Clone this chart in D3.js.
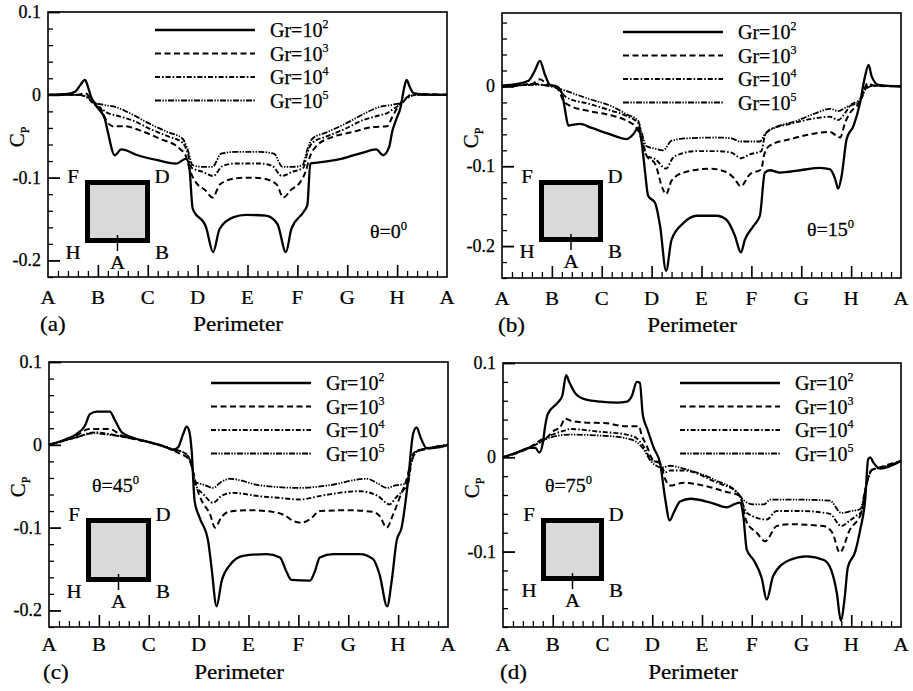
<!DOCTYPE html>
<html><head><meta charset="utf-8">
<script src="https://cdn.jsdelivr.net/npm/d3@7"></script>
<style>body{margin:0;background:#fff} svg{display:block}</style>
</head><body>
<svg id="c" width="913" height="691"></svg>
<script>
// ---------- DATA ----------
const xTickLabels = ["A","B","C","D","E","F","G","H","A"];
const grExponents = ["2","3","4","5"];
const thetaLabels = ["0","15","45","75"];
const panelTags = ["(a)","(b)","(c)","(d)"];
const yTicksA = [0.1,0,-0.1,-0.2];
const yTicksB = [0,-0.1,-0.2];
const yTicksC = [0.1,0,-0.1,-0.2];
const yTicksD = [0.1,0,-0.1];

// panel (a) theta = 0
const a_gr2 = [[0,0],[0.4,0.001],[0.55,0.004],[0.65,0.012],[0.74,0.018],[0.8,0.01],[0.86,-0.002],[0.93,-0.01],[1.0,-0.016],[1.14,-0.029],[1.2,-0.045],[1.34,-0.073],[1.47,-0.066],[1.8,-0.073],[2.2,-0.079],[2.57,-0.083],[2.77,-0.077],[2.83,-0.085],[2.9,-0.137],[3.17,-0.16],[3.31,-0.19],[3.44,-0.162],[3.71,-0.148],[3.97,-0.145],[4.37,-0.146],[4.6,-0.156],[4.77,-0.19],[4.88,-0.162],[5.14,-0.14],[5.2,-0.133],[5.26,-0.083],[5.4,-0.082],[5.9,-0.077],[6.3,-0.07],[6.58,-0.066],[6.72,-0.073],[6.84,-0.063],[6.9,-0.045],[6.98,-0.03],[7.07,-0.015],[7.14,0.008],[7.19,0.018],[7.25,0.01],[7.33,0.002],[7.5,0.0005],[8,0]];
const a_gr3 = [[0,0],[0.6,0.0],[0.75,0.002],[0.85,-0.004],[0.95,-0.01],[1.05,-0.016],[1.17,-0.031],[1.3,-0.038],[1.55,-0.038],[1.84,-0.043],[2.24,-0.053],[2.64,-0.065],[2.77,-0.075],[2.85,-0.092],[2.97,-0.106],[3.15,-0.115],[3.3,-0.124],[3.45,-0.108],[3.75,-0.101],[4.0,-0.1],[4.3,-0.101],[4.58,-0.108],[4.72,-0.124],[4.87,-0.115],[5.05,-0.106],[5.17,-0.092],[5.25,-0.075],[5.38,-0.062],[5.7,-0.051],[6.1,-0.045],[6.5,-0.039],[6.8,-0.038],[6.9,-0.027],[7.03,-0.013],[7.2,-0.003],[7.3,0.001],[8,0]];
const a_gr4 = [[0,0],[0.6,0.0],[0.8,-0.004],[0.9,-0.01],[1.05,-0.016],[1.2,-0.022],[1.37,-0.025],[1.7,-0.031],[2.04,-0.041],[2.4,-0.05],[2.7,-0.058],[2.8,-0.07],[2.88,-0.088],[3.1,-0.093],[3.31,-0.098],[3.5,-0.086],[3.75,-0.083],[4.25,-0.083],[4.5,-0.086],[4.69,-0.098],[4.9,-0.093],[5.12,-0.088],[5.2,-0.07],[5.3,-0.058],[5.6,-0.05],[5.96,-0.041],[6.3,-0.031],[6.63,-0.025],[6.8,-0.022],[6.95,-0.016],[7.1,-0.01],[7.2,-0.004],[7.4,0],[8,0]];
const a_gr5 = [[0,0],[0.6,0],[0.8,-0.003],[0.9,-0.009],[1.1,-0.012],[1.37,-0.015],[1.7,-0.024],[2.04,-0.035],[2.4,-0.045],[2.7,-0.053],[2.8,-0.066],[2.9,-0.085],[3.1,-0.087],[3.3,-0.087],[3.47,-0.071],[3.75,-0.069],[4.25,-0.069],[4.53,-0.071],[4.7,-0.087],[4.9,-0.087],[5.1,-0.085],[5.2,-0.066],[5.3,-0.053],[5.6,-0.045],[5.96,-0.035],[6.3,-0.024],[6.63,-0.015],[6.9,-0.012],[7.1,-0.009],[7.2,-0.003],[7.4,0],[8,0]];

// panel (b) theta = 15
const b_gr2 = [[0,0.001],[0.29,0.003],[0.53,0.007],[0.66,0.02],[0.76,0.032],[0.86,0.015],[0.96,0.002],[1.1,0],[1.2,-0.008],[1.26,-0.028],[1.33,-0.049],[1.56,-0.047],[1.8,-0.052],[2.17,-0.06],[2.5,-0.066],[2.63,-0.06],[2.73,-0.052],[2.8,-0.07],[2.87,-0.108],[2.93,-0.137],[3.07,-0.146],[3.17,-0.175],[3.29,-0.231],[3.4,-0.192],[3.64,-0.171],[3.9,-0.162],[4.3,-0.162],[4.5,-0.167],[4.67,-0.187],[4.79,-0.208],[4.87,-0.192],[5.04,-0.175],[5.17,-0.162],[5.27,-0.108],[5.37,-0.105],[5.57,-0.108],[5.98,-0.105],[6.38,-0.102],[6.58,-0.104],[6.68,-0.116],[6.74,-0.128],[6.81,-0.112],[6.91,-0.066],[7.05,-0.049],[7.18,-0.02],[7.28,0.013],[7.35,0.027],[7.41,0.013],[7.55,0.002],[8,0]];
const b_gr3 = [[0,0],[0.6,0.003],[0.76,0.009],[0.9,0.003],[1.05,0],[1.15,-0.006],[1.23,-0.018],[1.36,-0.024],[1.76,-0.031],[2.17,-0.036],[2.5,-0.043],[2.7,-0.052],[2.8,-0.066],[2.9,-0.087],[3.07,-0.097],[3.22,-0.128],[3.29,-0.135],[3.4,-0.118],[3.64,-0.108],[4.17,-0.103],[4.44,-0.106],[4.64,-0.114],[4.79,-0.125],[4.97,-0.11],[5.2,-0.104],[5.25,-0.087],[5.37,-0.074],[5.78,-0.066],[6.18,-0.06],[6.58,-0.057],[6.71,-0.062],[6.78,-0.064],[6.88,-0.045],[6.98,-0.033],[7.18,-0.018],[7.27,-0.003],[7.33,0.004],[7.45,0.001],[8,0]];
const b_gr4 = [[0,0],[0.7,0.003],[0.9,0.001],[1.1,-0.002],[1.3,-0.014],[1.76,-0.022],[2.17,-0.03],[2.5,-0.037],[2.73,-0.046],[2.8,-0.062],[2.9,-0.087],[3.07,-0.091],[3.29,-0.103],[3.42,-0.09],[3.6,-0.084],[3.9,-0.081],[4.3,-0.081],[4.6,-0.083],[4.79,-0.09],[4.97,-0.085],[5.2,-0.081],[5.27,-0.062],[5.37,-0.054],[5.78,-0.047],[6.18,-0.041],[6.58,-0.038],[6.74,-0.042],[6.88,-0.033],[6.98,-0.024],[7.18,-0.016],[7.27,-0.004],[7.38,0.001],[8,0]];
const b_gr5 = [[0,0],[0.7,0.002],[1.0,0],[1.3,-0.006],[1.76,-0.016],[2.17,-0.024],[2.5,-0.035],[2.73,-0.043],[2.8,-0.058],[2.9,-0.075],[3.07,-0.078],[3.23,-0.08],[3.4,-0.068],[3.7,-0.065],[4.3,-0.064],[4.6,-0.065],[4.77,-0.069],[5.17,-0.069],[5.27,-0.06],[5.5,-0.051],[5.91,-0.043],[6.31,-0.033],[6.58,-0.028],[6.74,-0.031],[6.9,-0.026],[7.18,-0.018],[7.3,-0.003],[7.45,0.001],[8,0]];

// panel (c) theta = 45
const c_gr2 = [[0,0],[0.35,0.007],[0.55,0.013],[0.72,0.023],[0.82,0.037],[0.96,0.04],[1.22,0.04],[1.32,0.03],[1.46,0.015],[1.69,0.0085],[2.02,0.003],[2.36,-0.003],[2.49,-0.006],[2.59,-0.003],[2.69,0.013],[2.76,0.022],[2.81,0.017],[2.86,-0.007],[2.92,-0.068],[3.02,-0.088],[3.19,-0.116],[3.26,-0.149],[3.36,-0.195],[3.46,-0.165],[3.63,-0.145],[3.89,-0.134],[4.36,-0.132],[4.63,-0.136],[4.76,-0.153],[4.86,-0.163],[5.23,-0.164],[5.33,-0.153],[5.43,-0.136],[5.7,-0.132],[6.23,-0.132],[6.5,-0.138],[6.63,-0.157],[6.78,-0.195],[6.87,-0.165],[6.97,-0.116],[7.07,-0.1],[7.2,-0.043],[7.3,0.013],[7.37,0.021],[7.45,0.009],[7.57,-0.004],[7.8,-0.003],[8,0]];
const c_gr3 = [[0,0],[0.55,0.011],[0.8,0.019],[1.22,0.019],[1.46,0.011],[1.7,0.007],[2.02,0.003],[2.36,-0.003],[2.6,-0.01],[2.8,-0.017],[2.9,-0.035],[2.96,-0.051],[3.05,-0.066],[3.23,-0.084],[3.33,-0.1],[3.45,-0.088],[3.6,-0.081],[4.0,-0.079],[4.5,-0.081],[4.72,-0.085],[4.9,-0.092],[5.06,-0.094],[5.25,-0.089],[5.43,-0.08],[6.0,-0.079],[6.5,-0.081],[6.63,-0.086],[6.77,-0.1],[6.9,-0.084],[7.03,-0.064],[7.2,-0.035],[7.27,-0.015],[7.35,-0.008],[7.5,-0.006],[8,0]];
const c_gr4 = [[0,0],[0.55,0.009],[0.9,0.015],[1.22,0.013],[1.46,0.01],[2.02,0.003],[2.4,-0.004],[2.75,-0.011],[2.88,-0.03],[2.93,-0.047],[3.1,-0.06],[3.29,-0.07],[3.45,-0.062],[3.69,-0.058],[4.2,-0.062],[4.6,-0.064],[5.03,-0.066],[5.5,-0.061],[6.23,-0.056],[6.6,-0.062],[6.83,-0.072],[6.95,-0.064],[7.1,-0.055],[7.2,-0.047],[7.27,-0.02],[7.4,-0.007],[7.6,-0.004],[8,0]];
const c_gr5 = [[0,0],[0.55,0.009],[0.9,0.014],[1.22,0.012],[1.46,0.01],[2.02,0.003],[2.4,-0.004],[2.75,-0.011],[2.88,-0.03],[2.93,-0.045],[3.09,-0.048],[3.29,-0.052],[3.45,-0.045],[3.63,-0.041],[4.23,-0.049],[5.03,-0.052],[5.6,-0.049],[6.37,-0.041],[6.6,-0.047],[6.77,-0.052],[6.95,-0.049],[7.17,-0.047],[7.27,-0.02],[7.4,-0.007],[7.6,-0.004],[8,0]];

// panel (d) theta = 75
const d_gr2 = [[0,0],[0.28,0.005],[0.55,0.01],[0.65,0.01],[0.73,0.005],[0.8,0.015],[0.85,0.034],[0.9,0.046],[1.1,0.058],[1.19,0.065],[1.27,0.087],[1.33,0.08],[1.45,0.068],[1.62,0.062],[1.96,0.059],[2.3,0.058],[2.49,0.059],[2.59,0.065],[2.69,0.08],[2.75,0.079],[2.81,0.045],[2.9,0.03],[3.03,0.01],[3.16,-0.007],[3.26,-0.044],[3.35,-0.067],[3.43,-0.059],[3.56,-0.047],[3.77,-0.044],[4.17,-0.048],[4.5,-0.053],[4.64,-0.05],[4.76,-0.048],[4.83,-0.062],[4.9,-0.098],[5.05,-0.11],[5.2,-0.128],[5.3,-0.151],[5.43,-0.126],[5.76,-0.109],[6.1,-0.105],[6.45,-0.109],[6.6,-0.12],[6.71,-0.144],[6.79,-0.173],[6.87,-0.148],[6.93,-0.117],[7.08,-0.1],[7.18,-0.077],[7.28,-0.045],[7.34,-0.002],[7.38,0.0],[7.45,-0.006],[7.58,-0.012],[8,-0.004]];
const d_gr3 = [[0,0],[0.55,0.011],[0.75,0.018],[0.88,0.021],[1.02,0.028],[1.15,0.032],[1.25,0.041],[1.35,0.039],[1.62,0.037],[2.09,0.036],[2.43,0.033],[2.73,0.033],[2.79,0.023],[2.89,0.012],[3.0,-0.002],[3.16,-0.007],[3.26,-0.023],[3.36,-0.03],[3.63,-0.027],[4.03,-0.03],[4.44,-0.036],[4.76,-0.041],[4.9,-0.069],[5.1,-0.08],[5.27,-0.089],[5.5,-0.073],[5.76,-0.071],[6.44,-0.073],[6.62,-0.08],[6.77,-0.101],[6.97,-0.077],[7.2,-0.059],[7.3,-0.03],[7.4,-0.014],[7.55,-0.011],[8,-0.004]];
const d_gr4 = [[0,0],[0.55,0.011],[0.75,0.016],[0.95,0.023],[1.22,0.028],[1.35,0.03],[1.96,0.027],[2.49,0.024],[2.69,0.02],[2.82,0.012],[2.97,-0.002],[3.16,-0.007],[3.26,-0.016],[3.36,-0.014],[3.63,-0.014],[4.3,-0.027],[4.7,-0.037],[4.76,-0.041],[4.9,-0.059],[5.3,-0.066],[5.5,-0.057],[6.0,-0.057],[6.57,-0.06],[6.8,-0.073],[6.95,-0.068],[7.1,-0.062],[7.2,-0.058],[7.3,-0.03],[7.42,-0.013],[7.6,-0.011],[8,-0.004]];
const d_gr5 = [[0,0],[0.55,0.011],[0.75,0.016],[0.95,0.021],[1.35,0.024],[1.96,0.023],[2.49,0.02],[2.69,0.016],[2.82,0.009],[2.97,-0.004],[3.2,-0.011],[3.36,-0.009],[3.63,-0.012],[4.3,-0.025],[4.7,-0.037],[4.76,-0.041],[4.85,-0.046],[5.03,-0.05],[5.24,-0.05],[5.37,-0.045],[6.0,-0.045],[6.57,-0.046],[6.8,-0.059],[7.0,-0.057],[7.18,-0.055],[7.3,-0.03],[7.42,-0.013],[7.6,-0.011],[8,-0.004]];

// ---------- LAYOUT / STYLE ----------
const lineStyles = [
  {dash:null, w:2.3},
  {dash:"6,3.5", w:2},
  {dash:"5,2,1.6,2", w:1.9},
  {dash:"6,1.4,1.4,1.4,1.4,1.4", w:1.8}
];
const panels = [
  {series:[a_gr2,a_gr3,a_gr4,a_gr5], yDomain:[-0.22,0.1], yTicks:yTicksA, l:48,t:12,w:399,h:265, legX:107,legY:18, thX:322,thY:226, sq:[85,180,65,63], tagDx:-8, lblDy:27, perDy:54},
  {series:[b_gr2,b_gr3,b_gr4,b_gr5], yDomain:[-0.24,0.092], yTicks:yTicksB, l:502,t:13,w:399,h:265, legX:121,legY:19, thX:305,thY:223, sq:[539,180,64,62], tagDx:-4, lblDy:27, perDy:54},
  {series:[c_gr2,c_gr3,c_gr4,c_gr5], yDomain:[-0.22,0.1], yTicks:yTicksC, l:49,t:362,w:399,h:265, legX:162,legY:21, thX:43,thY:130, sq:[86,518,65,64], tagDx:-6, lblDy:24, perDy:52},
  {series:[d_gr2,d_gr3,d_gr4,d_gr5], yDomain:[-0.18,0.1], yTicks:yTicksD, l:503,t:363,w:398,h:264, legX:177,legY:20, thX:42,thY:129, sq:[541,518,63,63], tagDx:-3, lblDy:24, perDy:52}
];

const FONT = "'Liberation Serif','Times New Roman',serif";
const svg = d3.select("#c");

function txt(g, x, y, size, anchor, sx){
  return g.append("text")
    .attr("transform", `translate(${x},${y}) scale(${sx||1.1},1)`)
    .attr("font-family", FONT).attr("font-size", size)
    .attr("text-anchor", anchor||"start").attr("fill","#000")
    .attr("stroke","#000").attr("stroke-width",0.25);
}

panels.forEach((p, i) => {
  const x = d3.scaleLinear().domain([0,8]).range([p.l, p.l+p.w]);
  const y = d3.scaleLinear().domain(p.yDomain).range([p.t+p.h, p.t]);
  const g = svg.append("g");

  const xMinor = d3.range(0, 8.0001, 0.2).filter(v => Math.abs(v - Math.round(v)) > 1e-6);
  g.append("g").attr("transform",`translate(0,${p.t+p.h})`)
    .call(d3.axisBottom(x).tickValues(xMinor).tickSize(-6).tickSizeOuter(0).tickFormat(""))
    .call(s => s.select(".domain").remove())
    .call(s => s.selectAll("line").attr("stroke","#000").attr("stroke-width",1.3));
  g.append("g").attr("transform",`translate(0,${p.t+p.h})`)
    .call(d3.axisBottom(x).tickValues(d3.range(1,8)).tickSize(-12).tickSizeOuter(0).tickFormat(""))
    .call(s => s.select(".domain").remove())
    .call(s => s.selectAll("line").attr("stroke","#000").attr("stroke-width",1.6));

  const lo = p.yDomain[0], hi = p.yDomain[1];
  const yMinor = d3.range(Math.ceil(lo/0.02 - 1e-6), Math.floor(hi/0.02 + 1e-6)+1).map(k => +(k*0.02).toFixed(3))
      .filter(v => Math.abs(v*10 - Math.round(v*10)) > 1e-6);
  g.append("g").attr("transform",`translate(${p.l},0)`)
    .call(d3.axisLeft(y).tickValues(yMinor).tickSize(-5).tickSizeOuter(0).tickFormat(""))
    .call(s => s.select(".domain").remove())
    .call(s => s.selectAll("line").attr("stroke","#000").attr("stroke-width",1.3));
  g.append("g").attr("transform",`translate(${p.l},0)`)
    .call(d3.axisLeft(y).tickValues(p.yTicks).tickSize(-12).tickSizeOuter(0).tickFormat(""))
    .call(s => s.select(".domain").remove())
    .call(s => s.selectAll("line").attr("stroke","#000").attr("stroke-width",1.8));

  g.append("rect").attr("x",p.l).attr("y",p.t).attr("width",p.w).attr("height",p.h)
    .attr("fill","none").attr("stroke","#000").attr("stroke-width",1.6);

  p.yTicks.forEach(v => {
    txt(g, p.l-7, y(v)+6, 18, "end", 1.0).text(v === 0 ? "0" : String(v));
  });
  xTickLabels.forEach((lab, k) => {
    txt(g, x(k), p.t+p.h+p.lblDy, 19, "middle").text(lab);
  });
  txt(g, p.l+190, p.t+p.h+p.perDy, 21, "middle").text("Perimeter");
  txt(g, p.l+p.tagDx, p.t+p.h+p.perDy, 21, "start").text(panelTags[i]);
  const cp = g.append("text").attr("transform",`translate(${p.l-24},${p.t+125}) rotate(-90)`)
    .attr("font-family",FONT).attr("font-size",21).attr("text-anchor","middle")
    .attr("stroke","#000").attr("stroke-width",0.25);
  cp.append("tspan").text("C");
  cp.append("tspan").attr("font-size",12).attr("dy",5).text("P");

  const line = d3.line().x(d => x(d[0])).y(d => y(d[1])).curve(d3.curveMonotoneX);
  p.series.forEach((data, k) => {
    const st = lineStyles[k];
    g.append("path").datum(data).attr("d", line).attr("fill","none")
      .attr("stroke","#000").attr("stroke-width",st.w)
      .attr("stroke-linejoin","round")
      .attr("stroke-dasharray", st.dash);
  });

  grExponents.forEach((e, k) => {
    const st = lineStyles[k];
    const yy = p.t + p.legY + k*23.5;
    g.append("line").attr("x1",p.l+p.legX).attr("x2",p.l+p.legX+100).attr("y1",yy).attr("y2",yy)
      .attr("stroke","#000").attr("stroke-width",st.w).attr("stroke-dasharray",st.dash);
    const t = txt(g, p.l+p.legX+115, yy+7, 20, "start", 1.0);
    t.append("tspan").text("Gr=10");
    t.append("tspan").attr("font-size",12).attr("dy",-9).text(e);
  });

  const th = txt(g, p.l+p.thX, p.t+p.thY, 19, "start", 1.05);
  th.append("tspan").text("\u03b8=" + thetaLabels[i]);
  th.append("tspan").attr("font-size",12).attr("dy",-8).text("0");

  const [sx0, sy0, sw, sh] = p.sq;
  const bw = 5;
  g.append("rect").attr("x",sx0+bw/2).attr("y",sy0+bw/2).attr("width",sw-bw).attr("height",sh-bw)
    .attr("fill","#d9d9d9").attr("stroke","#000").attr("stroke-width",bw);
  const cx = sx0 + sw/2;
  g.append("line").attr("x1",cx).attr("x2",cx).attr("y1",sy0+sh-8).attr("y2",sy0+sh+8)
    .attr("stroke","#000").attr("stroke-width",1.5);
  txt(g, sx0-12, sy0+3, 19, "middle").text("F");
  txt(g, sx0+sw+12, sy0+3, 19, "middle").text("D");
  txt(g, sx0-12, sy0+sh+16, 19, "middle").text("H");
  txt(g, sx0+sw+12, sy0+sh+16, 19, "middle").text("B");
  txt(g, cx, sy0+sh+26, 19, "middle").text("A");
});
</script>
</body></html>
